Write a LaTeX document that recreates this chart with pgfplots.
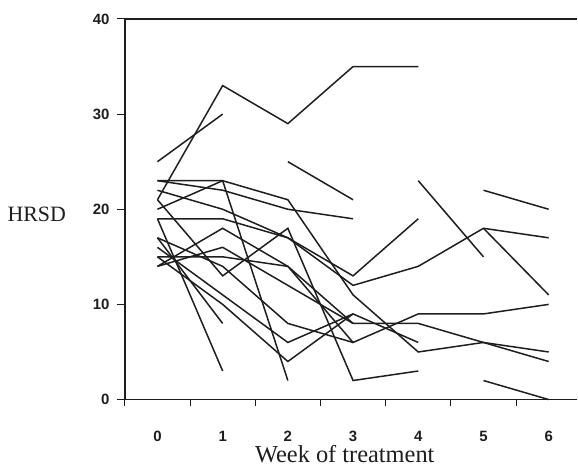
\documentclass[border=0pt]{standalone}
\usepackage{fontspec}
\setmainfont{Liberation Serif}
\setsansfont{Liberation Sans}
\usepackage{pgfplots}
\pgfplotsset{compat=1.18}

\definecolor{ink}{HTML}{1E1E1E}

\begin{document}
\begin{tikzpicture}
\begin{axis}[
    name=ax,
    scale only axis,
    width=453bp, height=381bp,
    xmin=-0.5, xmax=6.44,
    ymin=0, ymax=40,
    axis lines*=left,
    axis line style={line width=1.3bp, ink},
    xtick={0,1,2,3,4,5,6},
    minor xtick={-0.5,0.5,1.5,2.5,3.5,4.5,5.5},
    major x tick style={draw=none},
    minor x tick style={line width=1bp, ink},
    minor tick length=6bp,
    ytick={0,10,20,30,40},
    y tick style={line width=1bp, ink},
    major tick length=8bp,
    tick align=outside,
    /pgf/number format/assume math mode=true,
    tick label style={font=\fontsize{15}{15}\selectfont\sffamily\bfseries, text=ink},
    xticklabel style={yshift=-20bp},
    yticklabel style={xshift=-4bp},
    clip=false,
    every axis plot post/.append style={ink, solid, line width=1.5bp, mark=none},
]
% one line per patient
\addplot coordinates {(0,25) (1,30)};
\addplot coordinates {(0,21) (1,33) (2,29) (3,35) (4,35)};
\addplot coordinates {(0,23) (1,23) (2,21) (3,11) (4,5) (5,6) (6,5)};
\addplot coordinates {(0,23) (1,22) (2,20) (3,19)};
\addplot coordinates {(0,20) (1,23) (2,2)};
\addplot coordinates {(2,25) (3,21)};
\addplot coordinates {(4,23) (5,15)};
\addplot coordinates {(5,22) (6,20)};
\addplot coordinates {(0,21) (1,13) (2,18) (3,2) (4,3)};
\addplot coordinates {(0,22) (1,20) (2,17) (3,13) (4,19)};
\addplot coordinates {(0,19) (1,19) (2,17) (3,12) (4,14) (5,18) (6,17)};
\addplot coordinates {(0,14) (1,18) (2,14) (3,8) (4,8) (5,6) (6,4)};
\addplot coordinates {(0,19) (1,3)};
\addplot coordinates {(0,17) (1,8)};
\addplot coordinates {(0,15) (1,15) (2,14) (3,6) (4,9) (5,9) (6,10)};
\addplot coordinates {(0,16) (1,11) (2,6) (3,9) (4,6)};
\addplot coordinates {(0,14) (1,16) (2,12) (3,8)};
\addplot coordinates {(0,17) (1,14) (2,8) (3,6)};
\addplot coordinates {(0,15) (1,10) (2,4) (3,9)};
\addplot coordinates {(5,18) (6,11)};
\addplot coordinates {(5,2) (6,0)};
% top frame line
\draw[line width=1.3bp, ink] (rel axis cs:0,1) -- (rel axis cs:1,1);
\node[anchor=west, font=\fontsize{22}{22}\selectfont, text=ink]
    at (rel axis cs:0,0.486) [xshift=-121bp] {HRSD};
\node[anchor=base, font=\fontsize{24.5}{24.5}\selectfont, text=ink]
    at (rel axis cs:0.486,0) [yshift=-63bp] {Week of treatment};
\end{axis}
\path (ax.south west) ++(-125bp,-70bp) rectangle ++(578bp,470bp);
\end{tikzpicture}
\end{document}
